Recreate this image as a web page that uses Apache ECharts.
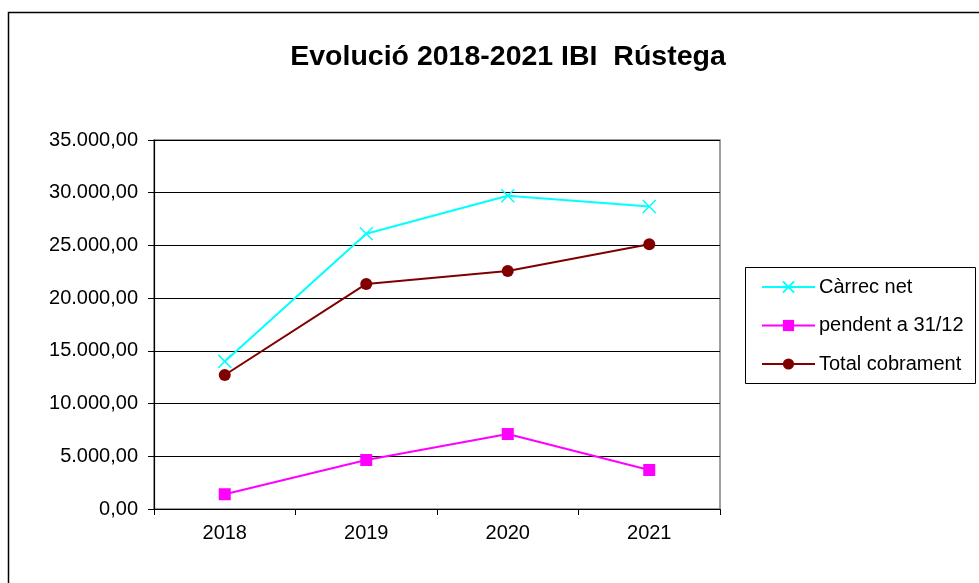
<!DOCTYPE html>
<html>
<head>
<meta charset="utf-8">
<script src="https://cdn.jsdelivr.net/npm/echarts@6/dist/echarts.min.js"></script>
<style>
html,body{margin:0;padding:0;background:#fff;}
#chart{width:979px;height:583px;}
</style>
</head>
<body>
<div id="chart"></div>
<script>
const categories = ['2018', '2019', '2020', '2021'];
const carrecNet = [14000, 26100, 29720, 28690];
const pendent = [1400, 4650, 7110, 3700];
const totalCobrament = [12710, 21350, 22580, 25110];
const seriesNames = ['Càrrec net', 'pendent a 31/12', 'Total cobrament'];

function fmt(v) {
  const s = Math.round(v).toString().replace(/\B(?=(\d{3})+(?!\d))/g, '.');
  return s + ',00';
}

const chart = echarts.init(document.getElementById('chart'), null, {renderer: 'canvas'});
const font = 'Liberation Sans, Arial, sans-serif';

const crossPath = 'path://M0,0 L10,10 M10,0 L0,10';

chart.setOption({
  animation: false,
  backgroundColor: '#fff',
  textStyle: {fontFamily: font},
  title: {
    text: 'Evolució 2018-2021 IBI  Rústega',
    left: 503,
    textAlign: 'center',
    top: 38,
    textStyle: {fontFamily: font, fontSize: 28.5, fontWeight: 'bold', color: '#000'}
  },
  graphic: [
    {type: 'rect', shape: {x: 8.5, y: 12.5, width: 1000, height: 600}, style: {fill: 'none', stroke: '#000', lineWidth: 1.5}, z: -1},
    {type: 'rect', shape: {x: 745.5, y: 267.5, width: 230, height: 116}, style: {fill: '#fff', stroke: '#000', lineWidth: 1}, z: 1}
  ],
  legend: {
    orient: 'vertical',
    left: 756,
    top: 272,
    itemGap: 18.5,
    itemWidth: 53,
    itemHeight: 14,
    z: 5,
    textStyle: {fontFamily: font, fontSize: 20, lineHeight: 20, color: '#000', padding: [0, 0, 0, -1]},
    data: seriesNames
  },
  grid: {
    left: 154, right: 259, top: 140, bottom: 74,
    show: true, borderColor: '#808080', borderWidth: 1.5, backgroundColor: '#fff'
  },
  xAxis: {
    type: 'category',
    data: categories,
    boundaryGap: true,
    axisLine: {lineStyle: {color: '#000', width: 1.2}},
    axisTick: {show: true, length: 6, lineStyle: {color: '#000'}},
    axisLabel: {fontFamily: font, fontSize: 20, color: '#000', margin: 14},
    splitLine: {show: false}
  },
  yAxis: {
    type: 'value',
    min: 0, max: 35000, interval: 5000,
    axisLine: {show: true, lineStyle: {color: '#000', width: 1.2}},
    axisTick: {show: true, length: 6, lineStyle: {color: '#000'}},
    axisLabel: {fontFamily: font, fontSize: 20, color: '#000', margin: 16, formatter: fmt},
    splitLine: {show: true, lineStyle: {color: '#000', width: 1}}
  },
  series: [
    {
      name: seriesNames[0], type: 'line', data: carrecNet,
      symbol: crossPath, symbolSize: 13,
      lineStyle: {color: '#00FFFF', width: 2},
      itemStyle: {color: '#00FFFF', borderColor: '#00FFFF', borderWidth: 1.5}
    },
    {
      name: seriesNames[1], type: 'line', data: pendent,
      symbol: 'rect', symbolSize: 12,
      lineStyle: {color: '#FF00FF', width: 2},
      itemStyle: {color: '#FF00FF'}
    },
    {
      name: seriesNames[2], type: 'line', data: totalCobrament,
      symbol: 'circle', symbolSize: 12,
      lineStyle: {color: '#800000', width: 2},
      itemStyle: {color: '#800000'}
    }
  ]
});
</script>
</body>
</html>
